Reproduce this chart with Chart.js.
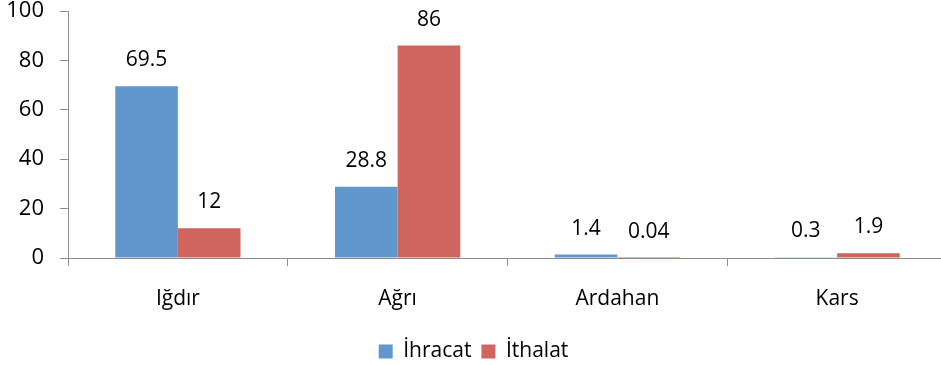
<!DOCTYPE html>
<html>
<head>
<meta charset="utf-8">
<script src="https://cdn.jsdelivr.net/npm/chart.js@4"></script>
<style>
  html, body { margin: 0; padding: 0; background: #fff; overflow: hidden; }
  #wrap { width: 947px; height: 365px; }
</style>
</head>
<body>
<div id="wrap"><canvas id="chart"></canvas></div>
<script>
const provinces = ["Iğdır", "Ağrı", "Ardahan", "Kars"];
const ihracat = [69.5, 28.8, 1.4, 0.3];
const ithalat = [12, 86, 0.04, 1.9];
const seriesNames = ["İhracat", "İthalat"];

const fontFamily = "'Open Sans', sans-serif";
const axisColor = "#8c8c8c";

// value labels above each bar
const valueLabels = {
  id: "valueLabels",
  afterDatasetsDraw(chart) {
    const ctx = chart.ctx;
    ctx.save();
    ctx.font = "21px " + fontFamily;
    ctx.fillStyle = "#000";
    ctx.textAlign = "center";
    ctx.textBaseline = "middle";
    chart.data.datasets.forEach((ds, i) => {
      chart.getDatasetMeta(i).data.forEach((bar, j) => {
        ctx.fillText(String(ds.data[j]), bar.x, bar.y - 26);
      });
    });
    ctx.restore();
  }
};

new Chart(document.getElementById("chart"), {
  type: "bar",
  data: {
    labels: provinces,
    datasets: [
      { label: seriesNames[0], data: ihracat, backgroundColor: "#6197cc" },
      { label: seriesNames[1], data: ithalat, backgroundColor: "#cf655e" }
    ]
  },
  options: {
    responsive: true,
    maintainAspectRatio: false,
    animation: false,
    layout: { padding: { top: 11, left: 0, right: 0, bottom: -7 } },
    datasets: { bar: { categoryPercentage: 0.57, barPercentage: 1 } },
    plugins: {
      tooltip: { enabled: false },
      legend: {
        position: "bottom",
        labels: {
          font: { family: fontFamily, size: 21 },
          color: "#000",
          boxWidth: 14,
          boxHeight: 14,
          padding: 10
        }
      }
    },
    scales: {
      x: {
        grid: { offset: true, drawOnChartArea: false, tickLength: 8, color: axisColor },
        border: { color: axisColor },
        ticks: { font: { family: fontFamily, size: 21 }, color: "#000", padding: 20 },
        afterFit(s) { s.height = 73; }
      },
      y: {
        min: 0,
        max: 100,
        grid: { drawOnChartArea: false, tickLength: 8, color: axisColor },
        border: { color: axisColor },
        ticks: { stepSize: 20, font: { family: fontFamily, size: 22 }, color: "#000", padding: 16 },
        afterFit(s) {
          s.width = 68;
          s.paddingTop = 0;
          s.paddingBottom = 0;
        }
      }
    }
  },
  plugins: [valueLabels]
});
</script>
</body>
</html>
